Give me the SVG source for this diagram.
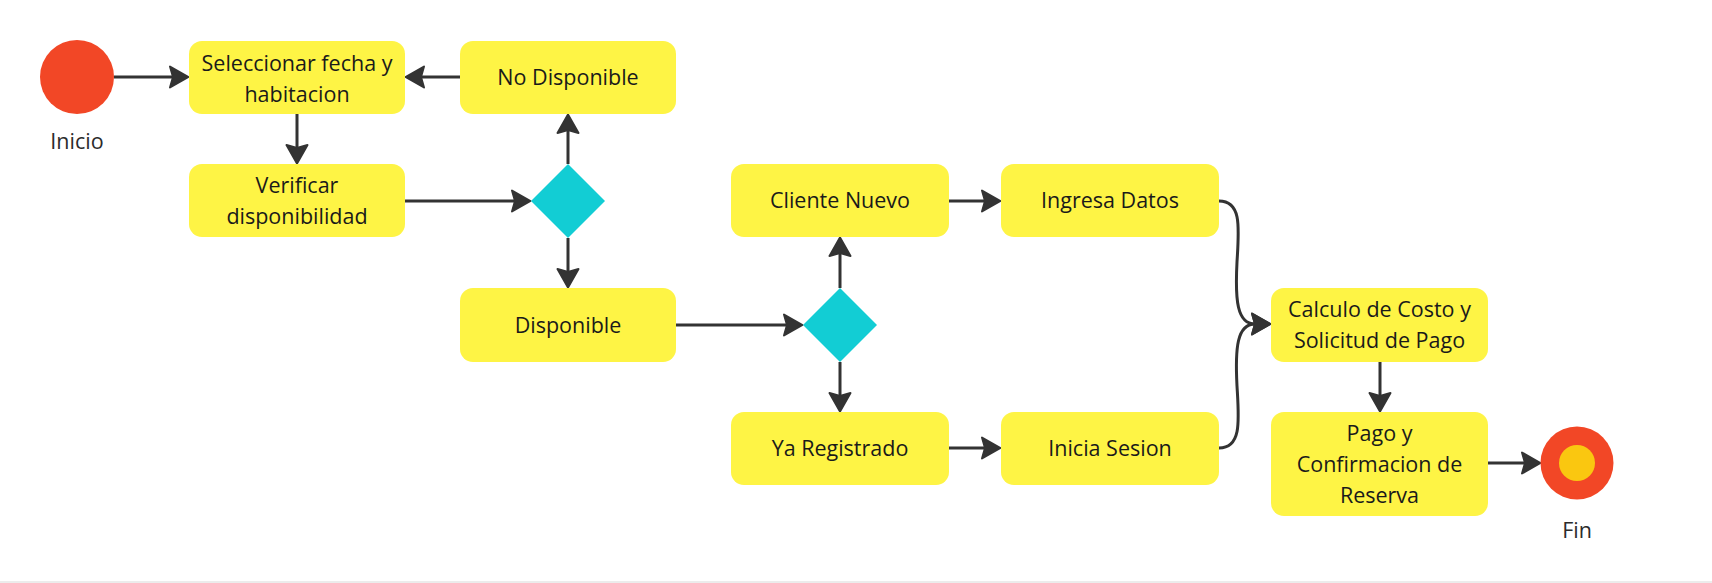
<svg xmlns="http://www.w3.org/2000/svg" width="1712" height="583" viewBox="0 0 1712 583">
<style>
.box{fill:#FEF445;}
.dia{fill:#12CDD4;}
.t{font-family:"Open Sans","Liberation Sans",sans-serif;font-size:21.5px;fill:#1a1a1a;text-anchor:middle;}
.lbl{font-family:"Open Sans","Liberation Sans",sans-serif;font-size:21.5px;fill:#2b2b2b;text-anchor:middle;}
.c{fill:none;stroke:#333333;stroke-width:3;marker-end:url(#ah);}
</style>
<defs>
<marker id="ah" markerUnits="userSpaceOnUse" viewBox="-6 -14 24 28" markerWidth="24" markerHeight="28" refX="0" refY="0" orient="auto">
<path d="M15.5,0 L-3,-10.5 L0,0 L-3,10.5 Z" fill="#333333" stroke="#333333" stroke-width="2" stroke-linejoin="round"/>
</marker>
</defs>
<rect x="0" y="0" width="1712" height="583" fill="#ffffff"/>
<rect x="0" y="581" width="1712" height="2" fill="#ececec"/>

<g id="connectors">
<path class="c" d="M114,77 L173,77"/>
<path class="c" d="M460,77 L421,77"/>
<path class="c" d="M297,114 L297,148"/>
<path class="c" d="M405,201 L515,201"/>
<path class="c" d="M568,164 L568,130"/>
<path class="c" d="M568,238 L568,272"/>
<path class="c" d="M676,325 L787,325"/>
<path class="c" d="M840,288 L840,253"/>
<path class="c" d="M840,362 L840,396"/>
<path class="c" d="M949,201 L985,201"/>
<path class="c" d="M949,448 L985,448"/>
<path class="c" d="M1219,201 C1242,201 1239,228 1237,262 C1235,300 1237,324 1255,324"/>
<path class="c" d="M1219,448 C1242,448 1239,420 1237,386 C1235,348 1237,324 1255,324"/>
<path class="c" d="M1380,362 L1380,396"/>
<path class="c" d="M1488,463 L1525,463"/>
</g>

<g id="inicio">
<circle cx="77" cy="77" r="37" fill="#F24726"/>
<text class="lbl" x="77" y="149">Inicio</text>
</g>

<g id="seleccionar">
<rect class="box" x="189" y="41" width="216" height="73" rx="13"/>
<text class="t" x="297" y="71">Seleccionar fecha y</text>
<text class="t" x="297" y="101.5">habitacion</text>
</g>

<g id="no-disponible">
<rect class="box" x="460" y="41" width="216" height="73" rx="13"/>
<text class="t" x="568" y="85">No Disponible</text>
</g>

<g id="verificar">
<rect class="box" x="189" y="164" width="216" height="73" rx="13"/>
<text class="t" x="297" y="193">Verificar</text>
<text class="t" x="297" y="223.5">disponibilidad</text>
</g>

<g id="decision1">
<polygon class="dia" points="568,164 605,201 568,238 531,201"/>
</g>

<g id="disponible">
<rect class="box" x="460" y="288" width="216" height="74" rx="13"/>
<text class="t" x="568" y="332.5">Disponible</text>
</g>

<g id="decision2">
<polygon class="dia" points="840,288 877,325 840,362 803,325"/>
</g>

<g id="cliente-nuevo">
<rect class="box" x="731" y="164" width="218" height="73" rx="13"/>
<text class="t" x="840" y="208">Cliente Nuevo</text>
</g>

<g id="ingresa-datos">
<rect class="box" x="1001" y="164" width="218" height="73" rx="13"/>
<text class="t" x="1110" y="208">Ingresa Datos</text>
</g>

<g id="ya-registrado">
<rect class="box" x="731" y="412" width="218" height="73" rx="13"/>
<text class="t" x="840" y="456">Ya Registrado</text>
</g>

<g id="inicia-sesion">
<rect class="box" x="1001" y="412" width="218" height="73" rx="13"/>
<text class="t" x="1110" y="456">Inicia Sesion</text>
</g>

<g id="calculo">
<rect class="box" x="1271" y="288" width="217" height="74" rx="13"/>
<text class="t" x="1379.5" y="317">Calculo de Costo y</text>
<text class="t" x="1379.5" y="347.5">Solicitud de Pago</text>
</g>

<g id="pago">
<rect class="box" x="1271" y="412" width="217" height="104" rx="13"/>
<text class="t" x="1379.5" y="441">Pago y</text>
<text class="t" x="1379.5" y="472">Confirmacion de</text>
<text class="t" x="1379.5" y="503">Reserva</text>
</g>

<g id="fin">
<circle cx="1577" cy="463" r="36.5" fill="#F24726"/>
<circle cx="1577" cy="463" r="18" fill="#FAC710"/>
<text class="lbl" x="1577" y="538">Fin</text>
</g>
</svg>
